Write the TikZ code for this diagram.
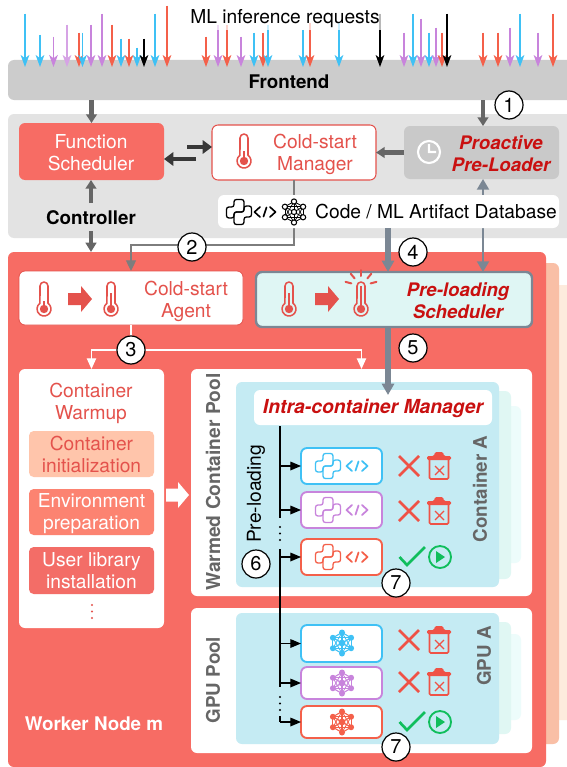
\documentclass[tikz,border=0pt]{standalone}
\usepackage{fontspec}
\setmainfont{TeX Gyre Heros}
\usetikzlibrary{arrows.meta,calc}
\definecolor{wred}{HTML}{F76C64}
\definecolor{lred}{HTML}{E4524C}
\definecolor{dred}{HTML}{C91010}
\definecolor{steelc}{HTML}{7B8794}
\definecolor{darkg}{HTML}{666666}
\definecolor{rblue}{HTML}{3FC1F5}
\definecolor{rpurple}{HTML}{C884DC}
\definecolor{rred}{HTML}{F4604A}
\definecolor{rblack}{HTML}{000000}
\definecolor{xred}{HTML}{EF5246}
\definecolor{okgreen}{HTML}{10BE5C}
\tikzset{
 lbl/.style={inner sep=0pt,align=center,font=\fontsize{14.4}{16.5}\selectfont},
 blbl/.style={lbl,font=\fontsize{14.1}{16.5}\selectfont\bfseries},
 bilbl/.style={lbl,font=\fontsize{14}{16.5}\selectfont\bfseries\itshape,text=dred},
 numc/.style={circle,draw=black,line width=0.9pt,fill=white,minimum size=21pt,inner sep=0pt,font=\fontsize{15}{15}\selectfont},
 rbox/.style={inner sep=0pt,outer sep=0pt,rounded corners=4.5pt},
 req/.style={line width=0.8pt,-{Stealth[length=9pt,width=6.5pt,inset=2.5pt]}},
 thickg/.style={line width=3.3pt,draw=darkg,-{Triangle[length=6.5pt,width=8pt]}},
 thickd/.style={line width=3.3pt,draw=black!78,-{Triangle[length=7pt,width=10pt]}},
 steelfat/.style={line width=4.5pt,draw=steelc,-{Triangle[length=8.5pt,width=9pt]}},
 branch/.style={line width=0.9pt,-{Triangle[length=8pt,width=6.5pt]}},
 whitearr/.style={line width=0.9pt,draw=white,-{Triangle[length=8pt,width=7pt]}},
}
% box node with pixel corners
\newcommand\bx[6][]{\node[rbox,#1,minimum width={(#5-#3)*0.75pt},minimum height={(#6-#4)*0.75pt}] (#2) at ({(#3+#5)/2},{(#4+#6)/2}) {};}
\newcommand\pyicon[4][1pt]{\begin{scope}[shift={(#2,#3)},draw=#4,line width=#1,rounded corners=1.8pt]
 \draw (-5,-12.5)--(5,-12.5)--(5,0)--(-5,0)--(-5,6)--(-12.5,6)--(-12.5,-5)--(-5,-5)--cycle;
 \draw (5,12.5)--(-5,12.5)--(-5,0)--(5,0)--(5,-6)--(12.5,-6)--(12.5,5)--(5,5)--cycle;
\end{scope}}
\newcommand\codeicon[4][1.3pt]{\begin{scope}[shift={(#2,#3)},draw=#4,line width=#1,line cap=round,line join=round]
 \draw (-5,-5)--(-10.5,0)--(-5,5);
 \draw (5,-5)--(10.5,0)--(5,5);
 \draw (-1.5,4.5)--(1.5,-4.5);
\end{scope}}
\newcommand\neticon[4][1]{\begin{scope}[shift={(#2,#3)},scale=#1]
 \foreach \a in {90,30,-30,-90,-150,150}{
  \draw[#4,line width=0.9pt] (0,0)--(\a:10.5) ;
  \draw[#4,line width=0.8pt] (\a:10.5)--({\a+60}:10.5);
  \draw[#4,line width=0.6pt] (\a:10.5)--({\a+120}:10.5);
  \fill[#4] (\a:10.5) circle (3);
 }
 \fill[#4] (0,0) circle (3.4);
\end{scope}}
\newcommand\netoutline[3]{\begin{scope}[shift={(#1,#2)}]
 \foreach \a in {90,30,-30,-90,-150,150}{
  \draw[#3,line width=0.6pt] (0,0)--(\a:10.5);
  \draw[#3,line width=0.6pt] (\a:10.5)--({\a+60}:10.5);
  \draw[#3,line width=0.5pt] (\a:10.5)--({\a+120}:10.5);
 }
 \foreach \a in {90,30,-30,-90,-150,150}{\draw[#3,fill=white,line width=0.8pt] (\a:10.5) circle (2.6);}
 \draw[#3,fill=white,line width=0.8pt] (0,0) circle (2.6);
\end{scope}}
% thermometer: x y level colour
\newcommand\thermo[4]{\begin{scope}[shift={(#1,#2)}]
 \draw[#4,line width=1.15pt,line join=round] (4,4.26) arc (-55:235:7) -- (-4,-13) arc (180:360:4) -- cycle;
 \fill[#4] (0,10) circle (4.2);
 \fill[#4] (-1.4,10) rectangle (1.4,#3);
\end{scope}}
\newcommand\fatarrow[3]{\begin{scope}[shift={(#1,#2)}]
 \fill[#3] (0,-6)--(13,-6)--(13,-13)--(24,0)--(13,13)--(13,6)--(0,6)--cycle;
\end{scope}}
\newcommand\crossicon[2]{\begin{scope}[shift={(#1,#2)}]
 \draw[xred,line width=1.9pt] (-10,-10)--(10,10) (-10,10)--(10,-10);
\end{scope}}
\newcommand\trashicon[2]{\begin{scope}[shift={(#1,#2)}]
 \draw[xred,line width=1.15pt,rounded corners=1pt] (-9.5,-6)--(-9.5,13)--(9.5,13)--(9.5,-6);
 \fill[xred,rounded corners=1pt] (-12,-6)--(-12,-10)--(-5,-10)--(-4,-14)--(4,-14)--(5,-10)--(12,-10)--(12,-6)--cycle;
 \draw[xred,line width=0.9pt] (-4,0)--(5,9) (5,0)--(-4,9);
\end{scope}}
\newcommand\okicon[2]{\begin{scope}[shift={(#1,#2)}]
 \draw[okgreen,line width=2pt] (-12.5,0)--(-5,8)--(13,-10);
 \draw[okgreen,line width=1.4pt] (28,0) circle (11);
 \fill[okgreen] (24,-6)--(33,0)--(24,6)--cycle;
\end{scope}}
\newcommand\tridots[3]{\foreach \d in {0,6.5,13}{\fill[#3] ($(#1,#2)+(0,\d)$) circle (1.1);}}
\begin{document}
\begin{tikzpicture}[x=0.75pt,y=-0.75pt]
\useasboundingbox (0,0) rectangle (567,767);
\fill[white] (0,0) rectangle (567,767);
% frontend
\bx[fill=black!20]{fe}{8}{60}{580}{100}
\node[blbl] (fetxt) at (289,82) {Frontend};
\coordinate (tipline) at (0,67);
% requests
\foreach \x/\y/\c in {25/14/rblue,40/35/rblue,53.5/37/rpurple,67/25/rpurple!75,79/33/rred,82.5/33/rblue,91/25/rpurple,102/14/rpurple,112/25/rred,121/39/rblue,129/39/rred,137/48/rblue,144/39/rblack,155/14/rblue,167/6/rred,206/37/rred,218/25/rpurple,227/25/rred,241/37/rpurple,254/33/rblue,263/33/rred,268/25/rblue,303/30/rblue,310/23/rred,339/23/rblue,380/14/rblack,404/33/rpurple,413/14/rblue,421/19/rpurple,429/33/rblue,436/28/rpurple,442/33/rred,447/14/rblack,483/33/rred,498/33/rred,510/28/rpurple,520/14/rblue,538/33/rpurple,553/14/rred}{
 \coordinate (rq) at (\x,\y);
 \draw[req,draw=\c,fill=\c] (rq) -- (rq |- tipline);
}
\node[lbl,fill=white,fill opacity=0.72,text opacity=1,inner sep=1.5pt] (mltxt) at (285,18.5) {ML inference requests};
% controller area
\bx[fill=black!11]{ctrl}{8}{114}{580}{238}
% worker stack
\bx[fill={rgb,255:red,253;green,235;blue,221}]{back2}{530}{285}{580}{720}
\bx[fill={rgb,255:red,249;green,191;blue,166}]{back1}{530}{263}{559}{744}
\bx[fill=wred]{worker}{8}{252}{546}{767}
% controller nodes
\bx[fill=wred]{fs}{19}{123}{164}{180}
\node[lbl,text=white] (fstxt) at (91,153) {Function\\Scheduler};
\bx[fill=white,draw=lred,line width=0.8pt]{csm}{212}{125}{376}{180}
\node[lbl,text=lred] (csmtxt) at (315,154.5) {Cold-start\\Manager};
\thermo{244}{151}{0}{lred}
\bx[fill=black!21]{pro}{404}{126}{559}{179}
\node[bilbl] (protxt) at (501,154) {Proactive\\Pre-Loader};
\draw[white,line width=1.6pt] (429,152) circle (11) (429,144)--(429,152)--(436,152);
% arrows in controller
\draw[thickg] (fe.south -| fs.north) -- (fs.north);
\coordinate (step1) at (483,100);
\draw[thickg] (step1) -- (step1 |- pro.north);
\draw[thickg] (pro.west) -- (csm.east);
\coordinate (up1) at (187,147);
\coordinate (up2) at (196,159);
\draw[thickd] (up1) -- (up1 -| csm.west);
\draw[thickd] (up2) -- (up2 -| fs.east);
% worker nodes
\bx[fill=white,draw=lred,line width=0.6pt]{agent}{19}{271}{243}{325}
\node[lbl,text=lred] (agtxt) at (186,301.5) {Cold-start\\Agent};
\thermo{44}{299}{2}{lred}
\fatarrow{68}{299}{lred}
\thermo{111}{299}{-6}{lred}
\bx[fill={rgb,255:red,223;green,246;blue,244},draw=steelc,line width=1.8pt]{sched}{256}{272}{532}{327}
\node[bilbl] (schtxt) at (458,301) {Pre-loading\\Scheduler};
\thermo{289}{299}{-6}{lred}
\fatarrow{315}{299}{lred}
\thermo{361}{299}{-13}{lred}
\foreach \a in {-90,-50,-130,-15,-165}{\draw[lred,line width=1.5pt,line cap=round] ($(361,286)+(\a:10)$)--($(361,286)+(\a:16)$);}
% line 2
\coordinate (db2) at (294,245);
\draw[line width=0.9pt,draw=darkg!85,-{Triangle[length=8pt,width=7.5pt]}] (csm.south) -- (db2) -| (agent.north);
% pro <-> sched
\coordinate (a6) at (483,229);
\draw[line width=1.5pt,draw=steelc,{Triangle[length=8pt,width=9pt]}-{Triangle[length=8pt,width=9pt]}] (a6 |- pro.south) -- (a6 |- sched.north);
% function scheduler <-> worker
\coordinate (cl) at (91,203);
\draw[thickg] (cl) -- (cl |- fs.south);
\coordinate (cl2) at (91,231);
\draw[line width=2.5pt,draw=darkg,-{Triangle[length=7pt,width=8pt]}] (cl2) -- (cl2 |- worker.north);
\node[blbl] (ctrltxt) at (91,218) {Controller};
% database
\bx[fill=white]{db}{218}{195}{559}{228}
\pyicon[1pt]{239}{212}{black}
\codeicon[1.2pt]{265}{212}{black}
\netoutline{294}{212}{black}
\node[lbl] (dbtxt) at (436,212) {Code / ML Artifact Database};
% pools
\bx[fill=white]{warm}{19}{369}{164}{628}
\bx[fill=white]{wpool}{191}{369}{532}{596}
\bx[fill=white]{gpool}{191}{608}{532}{753}
% arrow 4, 5
\coordinate (a4) at (388,228);
\draw[steelfat] (a4) -- (a4 |- sched.north);
\coordinate (a5end) at (388,395);
% warmup content
\node[lbl,text=lred] (wtxt) at (91,403) {Container\\Warmup};
\bx[fill={rgb,255:red,255;green,197;blue,171},rounded corners=3.5pt]{w1}{29}{431}{154}{477}
\node[lbl,text=lred] at ($(w1)+(0,0.7)$) (w1t) {Container\\initialization};
\bx[fill={rgb,255:red,252;green,131;blue,113},rounded corners=3.5pt]{w2}{29}{489}{154}{535}
\node[lbl,text=white] at ($(w2)+(0,2)$) (w2t) {Environment\\preparation};
\bx[fill={rgb,255:red,243;green,109;blue,103},rounded corners=3.5pt]{w3}{29}{547}{154}{594}
\node[lbl,text=white] at (w3) (w3t) {User library\\installation};
\tridots{92}{605}{lred}
\begin{scope}[shift={(166,495)}]
\fill[white] (0,-6.5)--(12,-6.5)--(12,-13)--(23,0)--(12,13)--(12,6.5)--(0,6.5)--cycle;
\end{scope}
% container panels
\bx[fill={rgb,255:red,237;green,252;blue,251}]{cp3}{480}{406}{521}{563}
\bx[fill={rgb,255:red,224;green,247;blue,243}]{cp2}{480}{391}{511}{579}
\bx[fill={rgb,255:red,197;green,235;blue,243}]{cp}{236}{382}{499}{587}
\bx[fill={rgb,255:red,237;green,252;blue,251}]{gp3}{480}{634}{521}{720}
\bx[fill={rgb,255:red,224;green,247;blue,243}]{gp2}{480}{622}{511}{734}
\bx[fill={rgb,255:red,197;green,235;blue,243}]{gp}{236}{613}{499}{744}
\bx[fill=white]{intra}{254}{390}{492}{425}
\node[bilbl,font=\fontsize{14.5}{16.5}\selectfont\bfseries\itshape] (intratxt) at (373,408) {Intra-container Manager};
\draw[steelfat] (sched.south -| a4) -- (a5end);
% side labels
\node[blbl,font=\fontsize{14.4}{16.5}\selectfont\bfseries,text=darkg,rotate=90] (wpt) at (213,482) {Warmed Container Pool};
\node[blbl,text=darkg,rotate=90] (gpt) at (213,680) {GPU Pool};
\node[blbl,text=darkg,rotate=90] (cat) at (480,489) {Container A};
\node[blbl,text=darkg,rotate=90] (gat) at (484,656) {GPU A};
\node[lbl,rotate=90] (plt) at (256,494) {Pre-loading};
% code boxes
\bx[fill=white,draw=rblue,line width=1.4pt]{c1}{301}{448}{382}{484}
\bx[fill=white,draw=rpurple,line width=1.4pt]{c2}{301}{492}{382}{528}
\bx[fill=white,draw=rred,line width=1.4pt]{c3}{301}{539}{382}{575}
\bx[fill=white,draw=rblue,line width=1.4pt]{n1}{301}{625}{382}{662}
\bx[fill=white,draw=rpurple,line width=1.4pt]{n2}{301}{667}{382}{699}
\bx[fill=white,draw=rred,line width=1.4pt]{n3}{301}{706}{382}{738}
\pyicon{328}{466}{rblue}\codeicon{357}{466}{rblue}
\pyicon{328}{510}{rpurple}\codeicon{357}{510}{rpurple}
\pyicon{328}{557}{rred}\codeicon{357}{557}{rred}
\neticon{342}{643}{rblue}
\neticon{342}{683}{rpurple}
\neticon{342}{722}{rred}
% bus
\coordinate (bus1) at (280,426);
\coordinate (bus2) at (280,518);
\coordinate (bus3) at (280,549);
\coordinate (bus4) at (280,687);
\coordinate (bus5) at (280,716);
\draw[line width=0.9pt] (bus1)--(bus2) (bus3)--(bus4);
\foreach \n in {c1,c2,c3,n1,n2,n3}{\draw[branch] (\n.west -| bus1) -- (\n.west);}
\draw[line width=0.9pt] (bus5)--(n3.west -| bus5);
\tridots{280}{527}{black}
\tridots{280}{697}{black}
% status
\crossicon{409}{466}\trashicon{439}{466}
\crossicon{409}{511}\trashicon{439}{511}
\okicon{412}{557}
\crossicon{409}{640}\trashicon{439}{640}
\crossicon{409}{682}\trashicon{439}{682}
\okicon{412}{722}
% circles 2-7
\draw[line width=0.9pt,draw=white] (agent.south) -- (131,350);
\coordinate (hz) at (131,350);
\draw[whitearr] (hz) -| (warm.north);
\draw[whitearr] (hz) -| (wpool.north);
\node[numc] (n1c) at (509,105) {1};
\node[numc] (n2c) at (192,247) {2};
\node[numc] (n3c) at (131,350) {3};
\node[numc] (n4c) at (413,252) {4};
\node[numc] (n5c) at (413,348) {5};
\node[numc] (n6c) at (256,564) {6};
\node[numc] (n7c) at (396,583) {7};
\node[numc] (n8c) at (396,747) {7};
\node[blbl,text=white] (wn) at (94,724) {Worker Node m};
\end{tikzpicture}
\end{document}
